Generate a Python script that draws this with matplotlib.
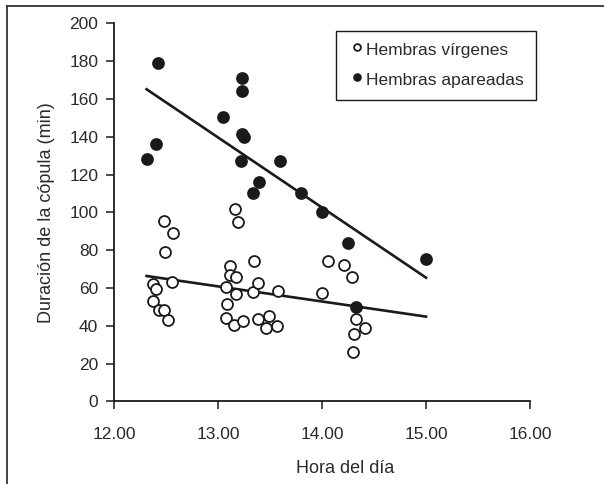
import matplotlib
matplotlib.use('Agg')
import numpy as np
import matplotlib.pyplot as plt
from matplotlib.lines import Line2D

# %% data
# Hembras vírgenes (open circles)
hora_virg = [12.375, 12.401, 12.369, 12.433, 12.478, 12.519, 12.558, 12.481, 12.567, 12.490,
             13.161, 13.192, 13.114, 13.114, 13.170, 13.071, 13.170, 13.331, 13.379, 13.577,
             13.343, 13.081, 13.071, 13.154, 13.235, 13.379, 13.490, 13.459, 13.567,
             14.000, 14.058, 14.209, 14.288, 14.324, 14.410, 14.308, 14.298]
dur_virg = [62.0, 59.5, 53.2, 48.3, 48.3, 43.0, 63.1, 95.3, 89.0, 79.3,
            102.0, 95.0, 71.9, 67.0, 65.7, 60.4, 56.7, 57.8, 62.9, 58.6,
            74.5, 51.6, 44.0, 40.5, 42.6, 43.7, 45.2, 39.0, 39.9,
            57.2, 74.3, 72.1, 65.7, 43.8, 38.7, 35.7, 26.0]

# Hembras apareadas (filled circles)
hora_apar = [12.423, 13.225, 13.231, 13.042, 12.401, 12.311, 13.231, 13.250, 13.215,
             13.593, 13.391, 13.337, 13.795, 14.000, 14.244, 15.000, 14.324]
dur_apar = [179.3, 171.0, 164.3, 150.4, 136.2, 128.3, 141.4, 140.1, 127.2,
            127.2, 116.3, 110.5, 110.5, 100.4, 83.7, 75.2, 50.0]

# trend lines (end points)
fit_x = [12.31, 15.0]
fit_virg = [66.4, 44.9]
fit_apar = [165.2, 65.5]

x_ticks = [12, 13, 14, 15, 16]
y_ticks = list(range(0, 201, 20))

# %%
plt.rcParams['font.family'] = ['Liberation Sans', 'DejaVu Sans']
ink = '#1a1a1a'
txt = '#2a2a2a'

fig = plt.figure(figsize=(6.05, 4.84), dpi=100)
ax = fig.add_axes([0.189, 0.1705, 0.687, 0.781])

ax.plot(fit_x, fit_apar, color=ink, lw=1.9, zorder=2)
ax.plot(fit_x, fit_virg, color=ink, lw=1.9, zorder=2)

ax.scatter(hora_virg, dur_virg, s=62, facecolor='white', edgecolor=ink, lw=1.3,
           zorder=3, label='Hembras vírgenes')
ax.scatter(hora_apar, dur_apar, s=62, facecolor=ink, edgecolor=ink, lw=1.3,
           zorder=4, label='Hembras apareadas')

ax.set_xlim(12, 16)
ax.set_ylim(0, 200)
ax.set_xticks(x_ticks)
ax.set_xticklabels([f"{v:.2f}" for v in x_ticks])
ax.set_yticks(y_ticks)

for s in ['top', 'right']:
    ax.spines[s].set_visible(False)
for s in ['left', 'bottom']:
    ax.spines[s].set_color(ink)
    ax.spines[s].set_linewidth(1.3)

ax.tick_params(axis='both', direction='out', length=5.5, width=1.1, color=ink,
               labelsize=12.5, labelcolor=txt)
ax.tick_params(axis='x', pad=13)
ax.tick_params(axis='y', pad=6)

ax.set_xlabel("Hora del día", fontsize=13, color=txt, labelpad=13)
ax.xaxis.set_label_coords(0.555, -0.155)
ax.set_ylabel("Duración de la cópula (min)", fontsize=13, color=txt, labelpad=10)

leg = ax.legend(loc='upper left', bbox_to_anchor=(0.533, 0.98), fontsize=12.5,
                markerscale=0.62, scatteryoffsets=[0.7], handletextpad=0.05,
                handlelength=1.0, borderpad=0.7, labelspacing=0.85,
                borderaxespad=0.0, fancybox=False, framealpha=1)
leg.get_frame().set_edgecolor(ink)
leg.get_frame().set_linewidth(1.0)
for t in leg.get_texts():
    t.set_color(txt)

# outer frame (left and top edges only)
fig.add_artist(Line2D([7/605, 7/605], [0, 1 - 6/484], color='#333333', lw=1.3,
                      transform=fig.transFigure))
fig.add_artist(Line2D([7/605, 603/605], [1 - 6/484, 1 - 6/484], color='#333333', lw=1.3,
                      transform=fig.transFigure))

fig.savefig('out.png', dpi=100)
